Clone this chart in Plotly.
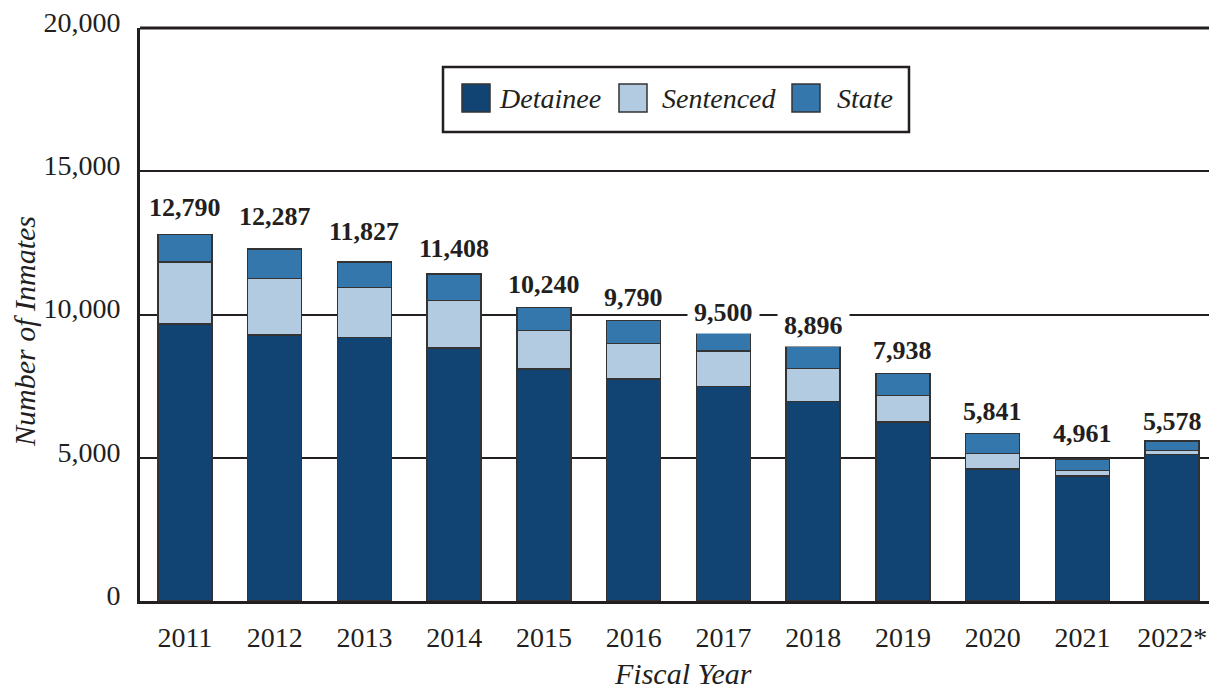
import plotly.graph_objects as go

years = ["2011", "2012", "2013", "2014", "2015", "2016", "2017", "2018", "2019", "2020", "2021", "2022*"]
detainee = [9670, 9280, 9190, 8830, 8090, 7750, 7480, 6970, 6240, 4610, 4360, 5110]
sentenced = [2160, 1980, 1745, 1665, 1360, 1245, 1245, 1140, 925, 530, 200, 140]
state = [960, 1027, 892, 913, 790, 795, 775, 786, 773, 701, 401, 328]
totals = [12790, 12287, 11827, 11408, 10240, 9790, 9500, 8896, 7938, 5841, 4961, 5578]
series_names = ["Detainee", "Sentenced", "State"]

colors = ["#124473", "#b3cbe0", "#3477ad"]
label_shift = [27, 32, 31, 26, 23, 23, 16, 21, 23, 22, 25, 20]
FONT = "Liberation Serif, Times New Roman, serif"
INK = "#231f20"

# page body has an 8px margin; figure is sized so the plot area lands at x 140-1217, y 28-601
PAGE_OFF = 8
PL, PT, PW, PH = 140, 28, 1077, 573
YMAX = 20000
GRID = [5000, 10000, 15000]

fig = go.Figure()
for name, vals, col in zip(series_names, [detainee, sentenced, state], colors):
    fig.add_trace(go.Bar(
        x=years, y=vals, name=name, width=0.6,
        marker=dict(color=col, line=dict(color="#333333", width=1.5)),
        showlegend=False, hoverinfo="x+y+name",
    ))

for i, (tot, sh) in enumerate(zip(totals, label_shift)):
    # white backing only where the label sits on a gridline
    label_px = tot * PH / YMAX + sh
    near_grid = any(abs(label_px - g * PH / YMAX) < 12 for g in GRID)
    fig.add_annotation(
        x=i, y=tot, xref="x", yref="y", text=f"<b>{tot:,}</b>",
        showarrow=False, yshift=sh, yanchor="middle", xanchor="center",
        bgcolor="white" if near_grid else "rgba(0,0,0,0)", borderpad=6,
        font=dict(family=FONT, size=26, color=INK),
    )


def px_x(p):
    return (p - PL) / PW


def px_y(p):
    return (PT + PH - p) / PH


# axis titles
fig.add_annotation(
    x=px_x(24), y=px_y(332), xref="paper", yref="paper",
    text="<i>Number of Inmates</i>", textangle=-90, showarrow=False,
    xanchor="center", yanchor="middle",
    font=dict(family=FONT, size=30, color=INK),
)
fig.add_annotation(
    x=px_x(683), y=px_y(673), xref="paper", yref="paper",
    text="<i>Fiscal Year</i>", showarrow=False,
    xanchor="center", yanchor="middle",
    font=dict(family=FONT, size=30, color=INK),
)

# manual legend
shapes = [
    dict(type="rect", xref="paper", yref="paper",
         x0=px_x(443), x1=px_x(909), y0=px_y(132), y1=px_y(67),
         line=dict(color=INK, width=2.5), fillcolor="white", layer="above"),
    dict(type="line", xref="paper", yref="paper", x0=0, x1=1, y0=1, y1=1,
         line=dict(color=INK, width=3)),
]
sw_left = [462, 619, 792]
txt_left = [497, 660, 835]
for name, col, sl, tl in zip(series_names, colors, sw_left, txt_left):
    shapes.append(dict(type="rect", xref="paper", yref="paper",
                       x0=px_x(sl), x1=px_x(sl + 28), y0=px_y(112), y1=px_y(84),
                       line=dict(color="#333333", width=1.5), fillcolor=col, layer="above"))
    fig.add_annotation(x=px_x(tl), y=px_y(98), xref="paper", yref="paper",
                       text=f"<i>{name}</i>", showarrow=False,
                       xanchor="left", yanchor="middle",
                       font=dict(family=FONT, size=28, color=INK))

fig.update_layout(
    barmode="stack",
    width=1217 - PAGE_OFF, height=691 - PAGE_OFF,
    margin=dict(l=PL - PAGE_OFF, r=0, t=PT - PAGE_OFF, b=691 - PT - PH),
    plot_bgcolor="white", paper_bgcolor="white",
    font=dict(family=FONT, color=INK),
    shapes=shapes,
    showlegend=False,
)
fig.update_xaxes(
    type="category", range=[-0.5, 11.5], automargin=False,
    showline=True, linecolor=INK, linewidth=3,
    showgrid=False, ticks="", ticklabelstandoff=9, ticklabeloverflow="allow",
    tickfont=dict(family=FONT, size=28, color=INK),
)
fig.update_yaxes(
    range=[0, YMAX], tickvals=[0, 5000, 10000, 15000, 20000], automargin=False,
    tickformat=",", showline=True, linecolor=INK, linewidth=3,
    showgrid=True, gridcolor=INK, gridwidth=1.5, zeroline=False,
    ticks="", ticklabelstandoff=11, ticklabelshift=-6, ticklabeloverflow="allow",
    tickfont=dict(family=FONT, size=28, color=INK),
)

fig.write_html("out.html")
